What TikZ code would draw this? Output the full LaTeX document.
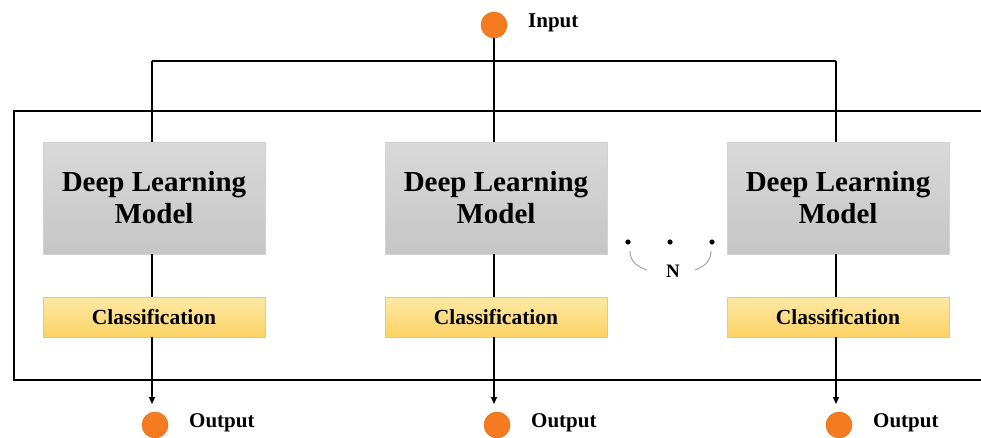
\documentclass[tikz,border=0pt]{standalone}
\usepackage{fontspec}
\setmainfont{Liberation Serif}
\usetikzlibrary{arrows.meta}
\definecolor{dotorange}{HTML}{F47B20}
\definecolor{dotedge}{HTML}{E06A10}
\tikzset{
  model/.style={rectangle, minimum width=222pt, minimum height=112pt,
    top color=gray!30, bottom color=gray!45, draw=gray!35, line width=0.6pt,
    font=\bfseries\fontsize{29}{32}\selectfont, align=center, inner sep=0pt},
  classbox/.style={rectangle, minimum width=222pt, minimum height=40pt,
    top color={rgb,255:red,253;green,233;blue,165}, bottom color={rgb,255:red,251;green,210;blue,100},
    draw={rgb,255:red,248;green,200;blue,80}, line width=0.6pt,
    font=\bfseries\fontsize{21.5}{23}\selectfont, inner sep=0pt},
  port/.style={circle, minimum size=26pt, inner sep=0pt, fill=dotorange, draw=dotedge, line width=0.5pt},
  portlabel/.style={anchor=west, font=\bfseries\fontsize{21}{23}\selectfont, inner sep=0pt},
  wire/.style={line width=1.6pt, black},
  flow/.style={wire, -{Triangle[length=7pt,width=6pt]}},
}
\begin{document}
\begin{tikzpicture}[x=1pt,y=-1pt]
\useasboundingbox (0,0) rectangle (981,437);

% enclosing frame, open on the right
\draw[line width=2.6pt] (990,111) -- (14,111) -- (14,380) -- (990,380);

% input
\node[port] (in) at (494,25) {};
\node[portlabel] (inlbl) at (528,23) {Input};
\coordinate (jl) at (152,61);
\coordinate (jm) at (494,61);
\coordinate (jr) at (836,61);
\draw[wire] (in) -- (jm);
\draw[wire] (jl) -- (jr);

% three branches
\foreach \i/\x in {1/152, 2/494, 3/836} {
  \node[model] (m\i) at (\x+2,198) {Deep Learning\\Model};
  \node[classbox] (c\i) at (\x+2,317) {Classification};
  \coordinate (t\i) at (\x,61);
  \coordinate (e\i) at (\x,404);
  \node[port] (o\i) at (\x+3,425) {};
  \node[portlabel] (ol\i) at (\x+37,423) {Output};
  \draw[wire] (t\i) -- (t\i |- m\i.north);
  \draw[wire] (m\i.south -| t\i) -- (c\i.north -| t\i);
  \draw[flow] (c\i.south -| t\i) -- (e\i);
}

% repetition marker between the second and third branches
\foreach \k/\x in {1/628, 2/670, 3/712}
  \fill (\x,242) circle (2.6pt) coordinate (d\k);
\node[font=\bfseries\fontsize{19}{21}\selectfont, inner sep=0pt] (n) at (673,271) {N};
\draw[gray!70, line width=1pt] (630,251) .. controls (630,262) and (638,267) .. (647,270);
\draw[gray!70, line width=1pt] (711,251) .. controls (711,262) and (703,267) .. (695,270);
\end{tikzpicture}
\end{document}
